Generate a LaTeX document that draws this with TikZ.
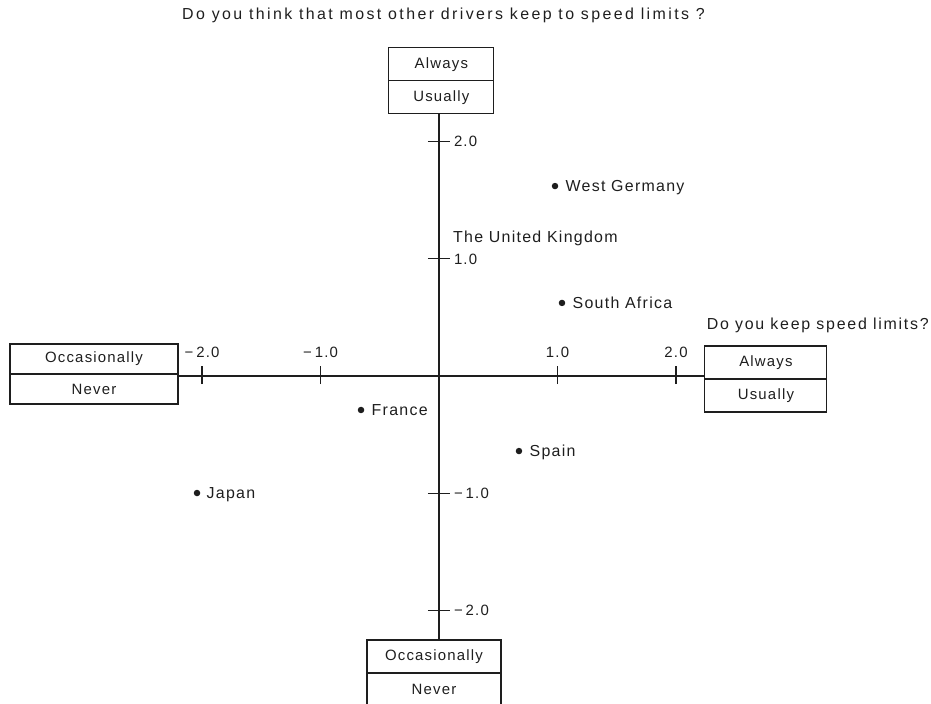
\documentclass[tikz,border=0pt]{standalone}
\usepackage{fontspec}
\setmainfont{Liberation Sans}[LetterSpace=8]
\usetikzlibrary{positioning}
\definecolor{ink}{RGB}{30,30,30}
\newcommand{\fs}{\fontsize{15}{17}\selectfont}
\newcommand{\fl}{\fontsize{16}{18}\selectfont}
\tikzset{
  cell/.style={draw=ink, line width=1.1bp, inner sep=0pt, outer sep=0pt,
               minimum height=33bp, font=\fs, text=ink},
  ax/.style={ink, line width=1.3bp},
  tck/.style={ink, line width=1.4bp},
  tlab/.style={font=\fs, text=ink, inner sep=0pt, text height=10.7pt, text depth=0pt},
  cdot/.style={circle, fill=ink, inner sep=0pt, minimum size=6.5bp},
  clab/.style={font=\fl, text=ink, inner sep=0pt, text height=11.4pt, text depth=0pt},
  qst/.style={font=\fl, text=ink, inner sep=0pt},
}
\newcommand{\xtk}[3]{%
  \draw[tck] (#1,-0.07) -- (#1,0.085);
  \node[tlab] (#3) at (#1,0.205) {#2};}
\newcommand{\ytk}[3]{%
  \draw[tck] (-0.093,#1) -- (0.093,#1);
  \node[tlab, anchor=west] (#3) at (0.125,#1) {#2};}
\newcommand{\mn}{−\kern3bp}

\begin{document}
\begin{tikzpicture}[x=118.5bp, y=117.25bp]
  \useasboundingbox (-3.7046,-2.7974) rectangle (4.1519,3.2068);
  \coordinate (O) at (0,0);
  % answer boxes
  \node[cell, minimum width=105bp, anchor=south] (topU) at (0.02,2.235) {Usually};
  \node[cell, minimum width=105bp, above=0pt of topU] (topA) {Always};
  \node[cell, minimum width=134bp, anchor=north] (botO) at (-0.042,-2.252) {Occasionally};
  \node[cell, minimum width=134bp, below=0pt of botO] (botN) {Never};
  \node[cell, minimum width=168bp, minimum height=30bp, anchor=south] (leftO) at (-2.911,0.017) {Occasionally};
  \node[cell, minimum width=168bp, minimum height=30bp, below=0pt of leftO] (leftN) {Never};
  \node[cell, minimum width=122bp, anchor=south] (rightA) at (2.759,-0.026) {Always};
  \node[cell, minimum width=122bp, below=0pt of rightA] (rightU) {Usually};
  % axes
  \draw[ax] (O -| leftO.east) -- (O -| rightA.west);
  \draw[ax] (O |- topU.south) -- (O |- botO.north);
  \xtk{-2}{\mn2.0}{xm2} \xtk{-1}{\mn1.0}{xm1} \xtk{1}{1.0}{xp1} \xtk{2}{2.0}{xp2}
  \ytk{2}{2.0}{yp2} \ytk{1}{1.0}{yp1} \ytk{-1}{\mn1.0}{ym1} \ytk{-2}{\mn2.0}{ym2}
  % questions
  \node[qst, font=\fl\addfontfeature{LetterSpace=15}] (qOther) at (0.038,3.079)
    {Do you think that most other drivers keep to speed limits ?};
  \node[qst, font=\fl\addfontfeature{LetterSpace=11}, anchor=east] (qSelf) at (4.135,0.435)
    {Do you keep speed limits?};
  % countries
  \node[cdot] (wg) at (0.979,1.62) {};
  \node[clab, right=7bp of wg] (wgl) {West Germany};
  \node[cdot] (sa) at (1.038,0.623) {};
  \node[clab, right=7bp of sa] (sal) {South Africa};
  \node[cdot] (fr) at (-0.658,-0.29) {};
  \node[clab, right=7bp of fr] (frl) {France};
  \node[cdot] (es) at (0.675,-0.64) {};
  \node[clab, right=7bp of es] (esl) {Spain};
  \node[cdot] (jp) at (-2.042,-0.998) {};
  \node[clab, right=6bp of jp] (jpl) {Japan};
  \node[clab, anchor=west] (ukl) at (0.118,1.186) {The United Kingdom};
\end{tikzpicture}
\end{document}
